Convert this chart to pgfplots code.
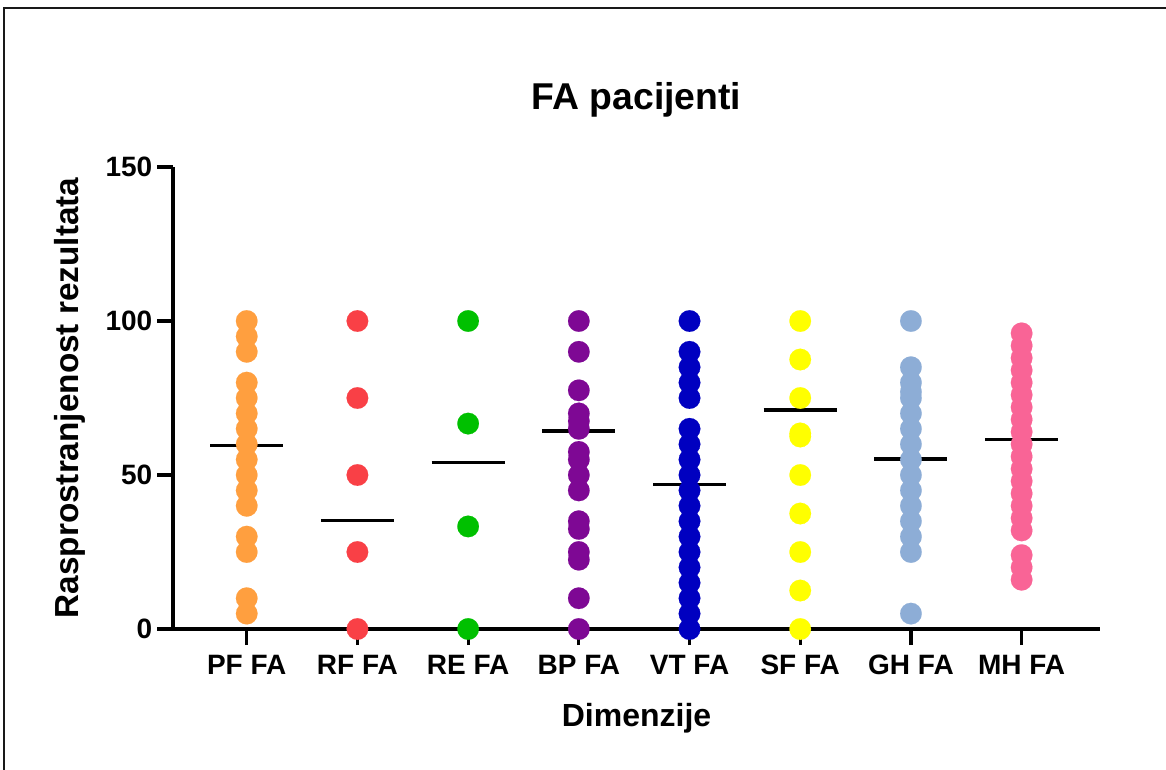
\documentclass[border=0pt]{standalone}
\usepackage{fontspec}
\setmainfont{Liberation Sans}
\usepackage{pgfplots}
\pgfplotsset{compat=1.18}
\definecolor{cPF}{HTML}{FF9F3F}
\definecolor{cRF}{HTML}{F94046}
\definecolor{cRE}{HTML}{00C000}
\definecolor{cBP}{HTML}{7E0894}
\definecolor{cVT}{HTML}{0000C0}
\definecolor{cSF}{HTML}{FFFF00}
\definecolor{cGH}{HTML}{8DADD6}
\definecolor{cMH}{HTML}{F96496}
\pgfplotsset{dots/.style={only marks, mark=*, mark size=8.1pt, color=#1, mark options={draw=#1, fill=#1, line width=0.1pt}}}
\begin{document}
\begin{tikzpicture}
\useasboundingbox (0,0) rectangle (874.5pt,-576.75pt);
\draw[line width=1.4pt, black!90] (3pt,-590pt) -- (3pt,-6.2pt) -- (890pt,-6.2pt);
\begin{axis}[
  at={(129.75pt,-471.75pt)}, anchor=south west,
  scale only axis, width=695.25pt, height=346.5pt,
  xmin=-0.666, xmax=7.708, ymin=0, ymax=150,
  clip=false,
  axis lines=left,
  axis line style={-, line width=2.4pt, black},
  xtick={0,1,2,3,4,5,6,7},
  xticklabels={PF FA, RF FA, RE FA, BP FA, VT FA, SF FA, GH FA, MH FA},
  ytick={0,50,100,150},
  tick align=outside, major tick length=12pt,
  tick style={line width=2.4pt, black},
  /pgf/number format/assume math mode=true,
  ticklabel style={font=\bfseries\fontsize{21}{25}\selectfont},
  xticklabel style={yshift=-4pt},
  xlabel={Dimenzije}, ylabel={Rasprostranjenost rezultata},
  xlabel style={font=\bfseries\fontsize{24}{28}\selectfont, at={(axis description cs:0.5,-0.1926)}, anchor=center},
  ylabel style={font=\bfseries\fontsize{25}{29}\selectfont, at={(axis description cs:-0.1111,0.5)}, anchor=center},
  title={FA pacijenti},
  title style={font=\bfseries\fontsize{28}{33}\selectfont, at={(axis description cs:0.5,1.1277)}, anchor=center},
]
% mean lines
\addplot[black, line width=2.3pt] coordinates {(-0.33,59.7) (0.33,59.7)};
\addplot[black, line width=2.3pt] coordinates {(0.67,35.1) (1.33,35.1)};
\addplot[black, line width=2.3pt] coordinates {(1.67,54.2) (2.33,54.2)};
\addplot[black, line width=2.3pt] coordinates {(2.67,64.3) (3.33,64.3)};
\addplot[black, line width=2.3pt] coordinates {(3.67,47.0) (4.33,47.0)};
\addplot[black, line width=2.3pt] coordinates {(4.67,71.1) (5.33,71.1)};
\addplot[black, line width=2.3pt] coordinates {(5.67,55.2) (6.33,55.2)};
\addplot[black, line width=2.3pt] coordinates {(6.67,61.4) (7.33,61.4)};
% points
\addplot[dots=cPF] coordinates {
(0,100) (0,95) (0,90) (0,80) (0,75) (0,70) (0,65) (0,60) (0,55) (0,50) (0,45) (0,40) (0,30) (0,25) (0,10) (0,5)};
\addplot[dots=cRF] coordinates {
(1,100) (1,75) (1,50) (1,25) (1,0)};
\addplot[dots=cRE] coordinates {
(2,100) (2,66.7) (2,33.3) (2,0)};
\addplot[dots=cBP] coordinates {
(3,100) (3,90) (3,77.5) (3,70) (3,67.5) (3,65) (3,57.5) (3,55) (3,50) (3,45) (3,35) (3,32.5) (3,25) (3,22.5) (3,10) (3,0)};
\addplot[dots=cVT] coordinates {
(4,100) (4,90) (4,85) (4,80) (4,75) (4,65) (4,60) (4,55) (4,50) (4,45) (4,40) (4,35) (4,30) (4,25) (4,20) (4,15) (4,10) (4,5) (4,0)};
\addplot[dots=cSF] coordinates {
(5,100) (5,87.5) (5,75) (5,63.5) (5,62.5) (5,50) (5,37.5) (5,25) (5,12.5) (5,0)};
\addplot[dots=cGH] coordinates {
(6,100) (6,85) (6,80) (6,77) (6,75) (6,70) (6,65) (6,60) (6,55) (6,50) (6,45) (6,40) (6,35) (6,30) (6,25) (6,5)};
\addplot[dots=cMH] coordinates {
(7,96) (7,92) (7,88) (7,84) (7,80) (7,76) (7,72) (7,68) (7,64) (7,60) (7,56) (7,52) (7,48) (7,44) (7,40) (7,36) (7,32) (7,24) (7,20) (7,16)};
\end{axis}
\end{tikzpicture}
\end{document}
